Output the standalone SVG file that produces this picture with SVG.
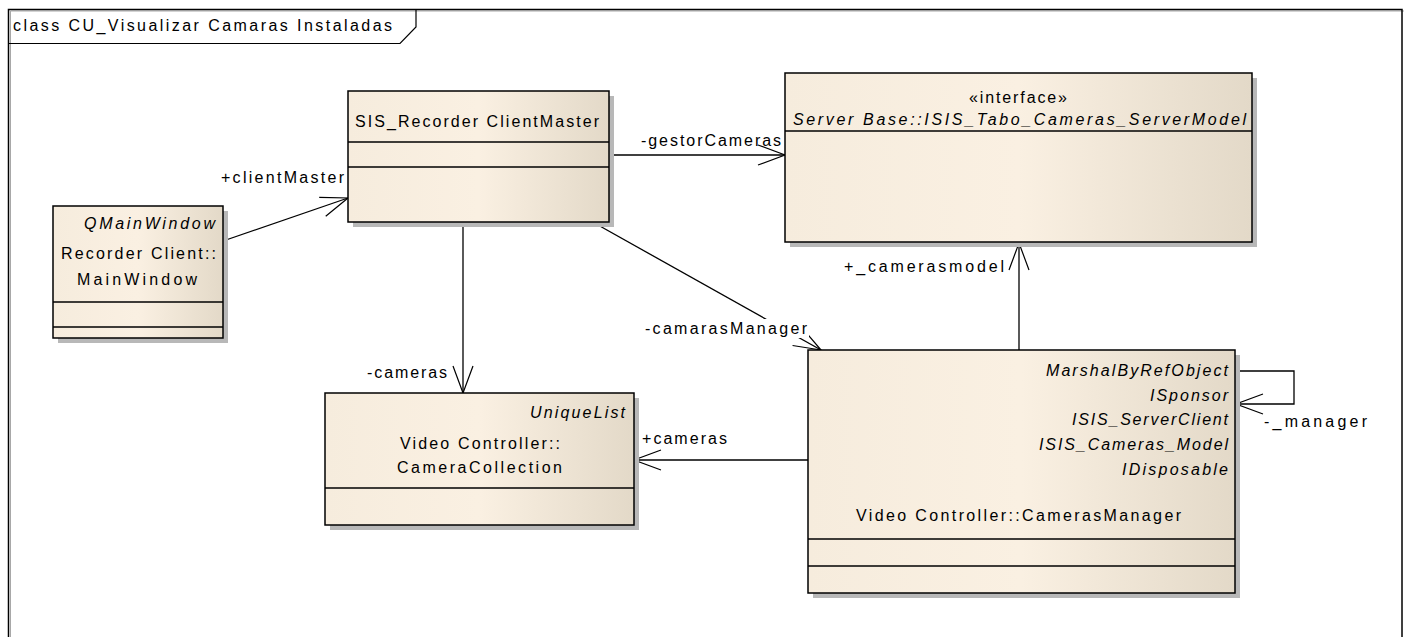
<svg xmlns="http://www.w3.org/2000/svg" width="1409" height="637" viewBox="0 0 1409 637">
  <defs>
    <linearGradient id="fillGrad" x1="0" y1="0" x2="1" y2="0">
      <stop offset="0" stop-color="#F6ECDD"/>
      <stop offset="0.5" stop-color="#FAF0E2"/>
      <stop offset="1" stop-color="#E3D9C8"/>
    </linearGradient>
    <marker id="open" viewBox="-30 -12 32 24" refX="0" refY="0" markerWidth="32" markerHeight="24" markerUnits="userSpaceOnUse" orient="auto">
      <path d="M-27,-10 L0,0 L-27,10" fill="none" stroke="#000" stroke-width="1.2"/>
    </marker>
    <style>
      .box { fill: url(#fillGrad); stroke: #000; stroke-width: 1.5; }
      .shadow { fill: #B8B8B8; }
      .sep { stroke: #000; stroke-width: 1.5; }
      .t { font-family: "Liberation Sans", Arial, sans-serif; font-size: 16px; fill: #000; }
      .i { font-style: italic; }
      .conn { fill: none; stroke: #000; stroke-width: 1.3; }
    </style>
  </defs>

  <rect width="1409" height="637" fill="#fff"/>

  <!-- diagram frame with its name tab -->
  <g id="frame">
    <path d="M10.5,660 V11 H1404" fill="none" stroke="#A8A8A8" stroke-width="1"/>
    <rect x="8.5" y="9.5" width="1393.5" height="660" fill="none" stroke="#000" stroke-width="1.5"/>
    <polyline points="8.5,43.5 400,43.5 416,27 416,9.5" fill="none" stroke="#000" stroke-width="1.2"/>
    <text class="t" x="13" y="31" textLength="379" lengthAdjust="spacing">class CU_Visualizar Camaras Instaladas</text>
  </g>

  <!-- associations -->
  <g id="connectors">
    <line class="conn" x1="223" y1="241" x2="348" y2="198" marker-end="url(#open)"/>
    <text class="t" x="221" y="183" textLength="123" lengthAdjust="spacing">+clientMaster</text>

    <line class="conn" x1="609" y1="155" x2="785" y2="155" marker-end="url(#open)"/>
    <text class="t" x="641" y="146" textLength="140" lengthAdjust="spacing">-gestorCameras</text>

    <line class="conn" x1="463" y1="222" x2="463" y2="393" marker-end="url(#open)"/>
    <text class="t" x="367" y="378" textLength="80" lengthAdjust="spacing">-cameras</text>

    <line class="conn" x1="598" y1="225" x2="821" y2="350" marker-end="url(#open)"/>
    <rect x="644" y="319" width="165" height="19" fill="#fff"/>
    <text class="t" x="645" y="334" textLength="162" lengthAdjust="spacing">-camarasManager</text>

    <line class="conn" x1="808" y1="460" x2="634" y2="460" marker-end="url(#open)"/>
    <text class="t" x="642" y="444" textLength="85" lengthAdjust="spacing">+cameras</text>

    <line class="conn" x1="1019" y1="350" x2="1019" y2="243" marker-end="url(#open)"/>
    <text class="t" x="844" y="272" textLength="160" lengthAdjust="spacing">+_camerasmodel</text>

    <polyline class="conn" points="1235,371 1294,371 1294,404 1236,404" marker-end="url(#open)"/>
    <text class="t" x="1264" y="427" textLength="103" lengthAdjust="spacing">-_manager</text>
  </g>

  <!-- Recorder Client::MainWindow -->
  <g id="node-mainwindow">
    <rect class="shadow" x="58" y="211" width="170" height="132"/>
    <rect class="box" x="53" y="206" width="170" height="132"/>
    <line class="sep" x1="53" y1="302" x2="223" y2="302"/>
    <line class="sep" x1="53" y1="327" x2="223" y2="327"/>
    <text class="t i" x="84" y="229" textLength="131" lengthAdjust="spacing">QMainWindow</text>
    <text class="t" x="61" y="259" textLength="155" lengthAdjust="spacing">Recorder Client::</text>
    <text class="t" x="77" y="285" textLength="120" lengthAdjust="spacing">MainWindow</text>
  </g>

  <!-- SIS_RecorderClientMaster -->
  <g id="node-clientmaster">
    <rect class="shadow" x="353" y="96" width="261" height="131"/>
    <rect class="box" x="348" y="91" width="261" height="131"/>
    <line class="sep" x1="348" y1="142" x2="609" y2="142"/>
    <line class="sep" x1="348" y1="167" x2="609" y2="167"/>
    <text class="t" x="355" y="127" textLength="244" lengthAdjust="spacing">SIS_Recorder ClientMaster</text>
  </g>

  <!-- Server Base::ISIS_Tabo_Cameras_ServerModel interface -->
  <g id="node-servermodel">
    <rect class="shadow" x="790" y="78" width="467" height="169"/>
    <rect class="box" x="785" y="73" width="467" height="169"/>
    <line class="sep" x1="785" y1="131" x2="1252" y2="131"/>
    <text class="t" x="969" y="103" textLength="98" lengthAdjust="spacing">«interface»</text>
    <text class="t i" x="793" y="125" textLength="453" lengthAdjust="spacing">Server Base::ISIS_Tabo_Cameras_ServerModel</text>
  </g>

  <!-- Video Controller::CameraCollection -->
  <g id="node-cameracollection">
    <rect class="shadow" x="330" y="398" width="309" height="132"/>
    <rect class="box" x="325" y="393" width="309" height="132"/>
    <line class="sep" x1="325" y1="488" x2="634" y2="488"/>
    <text class="t i" x="530" y="418" textLength="95" lengthAdjust="spacing">UniqueList</text>
    <text class="t" x="400" y="449" textLength="160" lengthAdjust="spacing">Video Controller::</text>
    <text class="t" x="397" y="473" textLength="165" lengthAdjust="spacing">CameraCollection</text>
  </g>

  <!-- Video Controller::CamerasManager -->
  <g id="node-camerasmanager">
    <rect class="shadow" x="813" y="355" width="427" height="243"/>
    <rect class="box" x="808" y="350" width="427" height="243"/>
    <line class="sep" x1="808" y1="539" x2="1235" y2="539"/>
    <line class="sep" x1="808" y1="566" x2="1235" y2="566"/>
    <text class="t i" x="1046" y="376" textLength="182" lengthAdjust="spacing">MarshalByRefObject</text>
    <text class="t i" x="1150" y="401" textLength="78" lengthAdjust="spacing">ISponsor</text>
    <text class="t i" x="1072" y="425" textLength="156" lengthAdjust="spacing">ISIS_ServerClient</text>
    <text class="t i" x="1039" y="450" textLength="189" lengthAdjust="spacing">ISIS_Cameras_Model</text>
    <text class="t i" x="1122" y="475" textLength="106" lengthAdjust="spacing">IDisposable</text>
    <text class="t" x="856" y="521" textLength="325" lengthAdjust="spacing">Video Controller::CamerasManager</text>
  </g>
</svg>
